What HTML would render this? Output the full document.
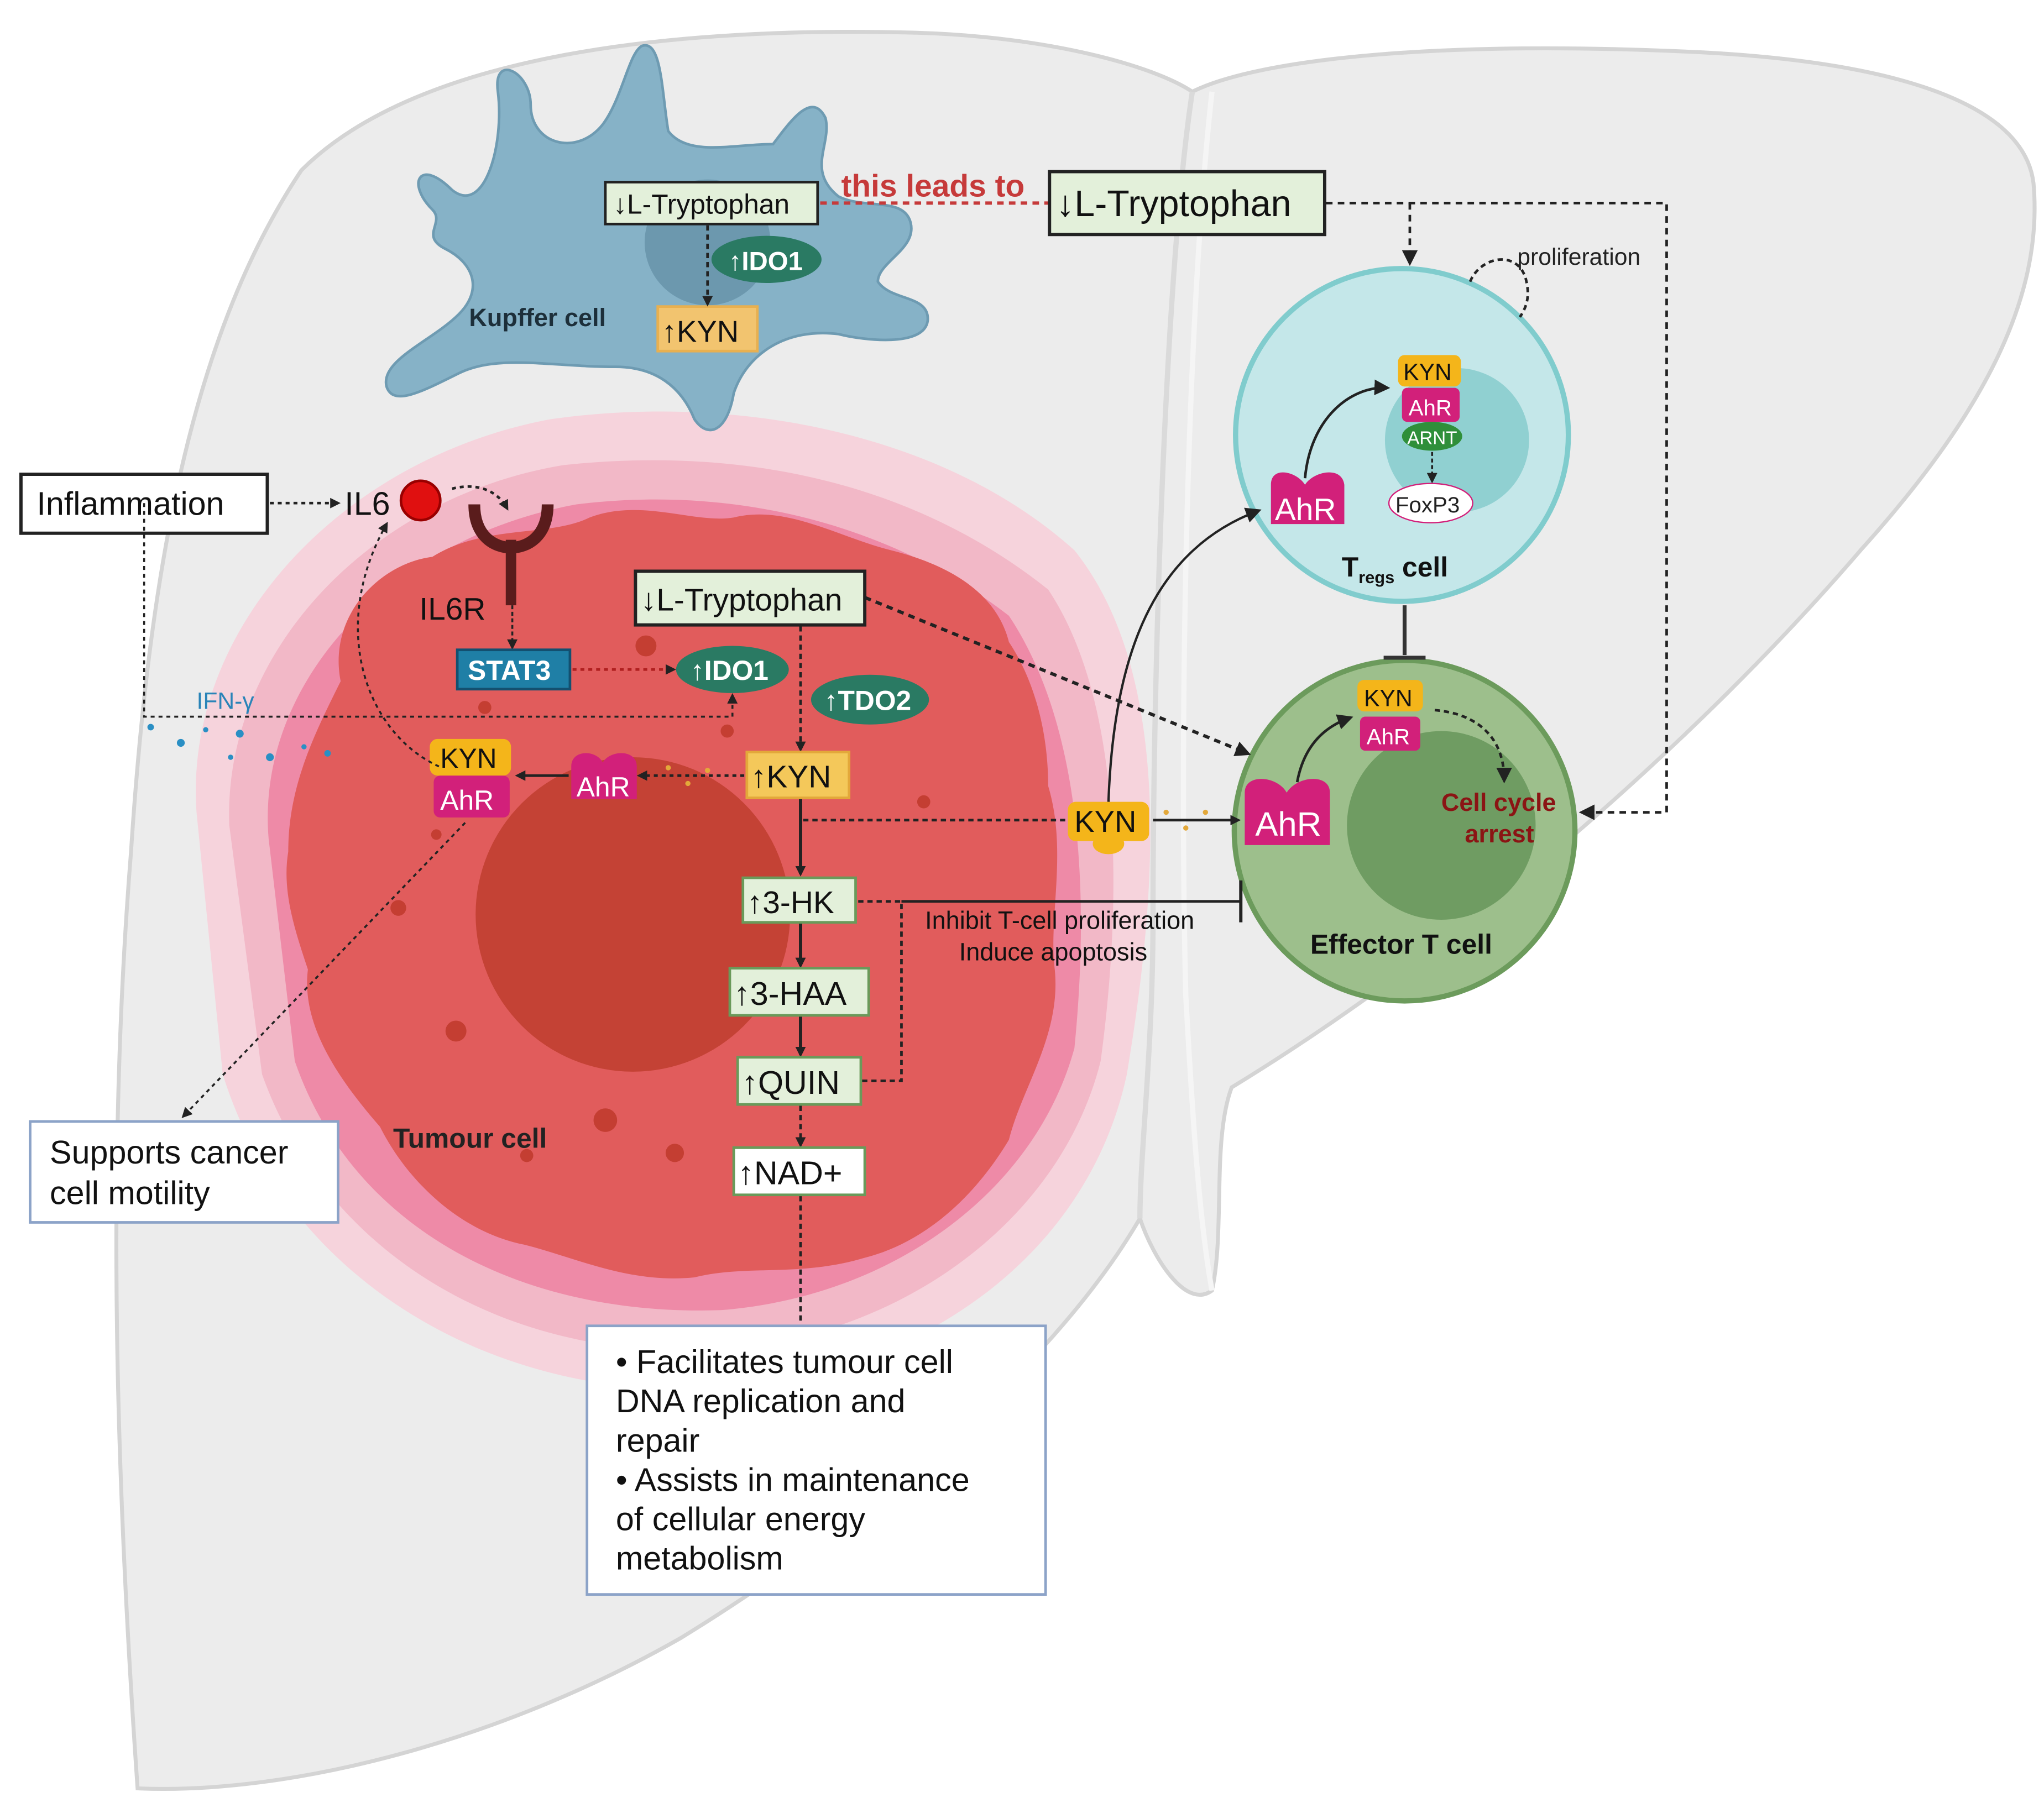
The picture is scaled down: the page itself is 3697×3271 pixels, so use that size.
<!DOCTYPE html>
<html><head><meta charset="utf-8"><style>
html,body{margin:0;padding:0;background:#fff;}
svg{display:block;}
text{font-family:"Liberation Sans",sans-serif;}
</style></head><body>
<svg width="3697" height="3271" viewBox="0 0 1560 1380" preserveAspectRatio="none" xmlns="http://www.w3.org/2000/svg">
<defs>
<marker id="ah" markerWidth="8" markerHeight="8" refX="6" refY="4" orient="auto" markerUnits="userSpaceOnUse"><path d="M0,0 L8,4 L0,8 z" fill="#222"/></marker>
<marker id="ahs" markerWidth="12" markerHeight="12" refX="9" refY="6" orient="auto" markerUnits="userSpaceOnUse"><path d="M0,0 L12,6 L0,12 z" fill="#222"/></marker>
</defs>
<rect width="1560" height="1380" fill="#fff"/>
<!-- liver -->
<path d="M105,1365 C90,1150 80,900 100,650 C115,420 150,250 230,130 C320,40 520,20 700,25 C800,28 880,50 910,70 C960,45 1100,30 1300,40 C1450,48 1545,80 1552,140 C1560,230 1510,320 1420,420 C1300,560 1120,720 940,830 C925,870 935,940 925,985 C905,1000 880,960 870,930 C800,1050 650,1170 520,1250 C380,1330 220,1370 105,1365 Z" fill="#ececec" stroke="#d4d4d4" stroke-width="3"/>
<path d="M910,70 C890,200 880,500 880,700 C880,800 870,880 870,930" fill="none" stroke="#dadada" stroke-width="4"/>
<path d="M925,70 C905,250 900,560 905,760 C910,850 915,930 925,985" fill="none" stroke="#f5f5f5" stroke-width="4"/>
<!-- tumour halo -->
<path d="M150,620 C140,480 260,350 420,320 C560,300 720,330 820,420 C900,520 880,700 860,820 C830,960 700,1050 550,1060 C380,1070 220,980 170,820 Z" fill="#f6d3dc"/>
<path d="M175,630 C170,500 280,380 430,355 C570,340 700,370 800,450 C860,540 855,700 840,810 C810,930 690,1020 550,1030 C390,1040 250,960 200,820 Z" fill="#f2b8c7"/>
<path d="M205,640 C195,520 300,410 440,385 C560,370 680,400 770,470 C830,560 830,700 820,800 C790,910 680,990 550,1000 C400,1005 270,940 225,810 Z" fill="#ee8aa7"/>
<path d="M220,650 C220,600 240,560 260,520 C250,470 290,430 330,425 C370,400 420,410 450,395 C490,380 530,400 560,395 C600,385 640,410 680,420 C720,430 760,450 770,490 C790,520 800,560 800,600 C815,650 800,700 805,740 C810,790 780,830 770,870 C740,920 700,950 660,960 C610,975 570,965 530,975 C480,980 440,960 400,950 C350,940 310,900 290,860 C255,820 230,780 235,740 C225,710 215,680 220,650 Z" fill="#e15c5c"/>
<circle cx="483" cy="698" r="120" fill="#c44235"/>
<g fill="#c43e32"><circle cx="493" cy="493" r="8"/><circle cx="370" cy="540" r="5"/><circle cx="304" cy="693" r="6"/><circle cx="348" cy="787" r="8"/><circle cx="462" cy="855" r="9"/><circle cx="515" cy="880" r="7"/><circle cx="402" cy="882" r="5"/><circle cx="555" cy="558" r="5"/><circle cx="705" cy="612" r="5"/><circle cx="333" cy="637" r="4"/><circle cx="570" cy="520" r="4"/></g>
<text x="300" y="876" font-size="21" font-weight="bold" fill="#222">Tumour cell</text>
<!-- Kupffer -->
<path d="M330,160 C310,140 320,120 345,145 C370,165 385,110 380,70 C376,40 405,55 405,80 C405,110 440,120 460,95 C475,75 480,40 490,35 C505,30 505,70 510,100 C525,120 560,110 590,110 C605,90 620,70 630,90 C635,110 615,130 640,150 C660,160 690,150 695,170 C700,190 670,200 670,215 C680,230 710,225 708,245 C705,265 660,260 640,255 C600,250 570,270 560,300 C555,330 540,335 530,320 C520,295 500,280 470,280 C420,280 380,270 350,285 C320,300 300,310 295,295 C290,275 330,260 350,240 C370,220 360,200 340,190 C320,180 340,170 330,160 Z" fill="#86b2c7" stroke="#6e9bb2" stroke-width="2"/>
<circle cx="540" cy="185" r="48" fill="#6c98ae"/>
<text x="358" y="249" font-size="19" font-weight="bold" fill="#1d2f3a">Kupffer cell</text>
<!-- Tregs -->
<circle cx="1070" cy="332" r="127" fill="#c4e7e9" stroke="#80cccd" stroke-width="4"/>
<circle cx="1112" cy="336" r="55" fill="#90d0d1"/>
<text x="1024" y="440" font-size="21" font-weight="bold" fill="#111">T<tspan font-size="13" dy="5">regs</tspan><tspan dy="-5"> cell</tspan></text>
<!-- Effector -->
<circle cx="1072" cy="634" r="130" fill="#9dbf8c" stroke="#6c9b5c" stroke-width="4"/>
<circle cx="1100" cy="630" r="72" fill="#6f9c62"/>
<text x="1000" y="728" font-size="21" font-weight="bold" fill="#111">Effector T cell</text>
<line x1="1072" y1="462" x2="1072" y2="500" stroke="#333" stroke-width="3"/>
<line x1="1056" y1="502" x2="1088" y2="502" stroke="#333" stroke-width="3"/>
<!-- boxes -->
<rect x="462" y="139" width="162" height="32" fill="#e3f0da" stroke="#222" stroke-width="2"/>
<text x="468" y="163" font-size="21" fill="#111">↓L-Tryptophan</text>
<ellipse cx="585" cy="198" rx="42" ry="18" fill="#2a7a63"/>
<text x="556" y="206" font-size="20" font-weight="bold" fill="#fff">↑IDO1</text>
<rect x="502" y="234" width="76" height="34" fill="#f2c46f" stroke="#e8b050" stroke-width="2"/>
<text x="505" y="261" font-size="23" fill="#111">↑KYN</text>
<line x1="540" y1="172" x2="540" y2="232" stroke="#222" stroke-width="2" stroke-dasharray="4,3" marker-end="url(#ah)"/>
<line x1="626" y1="155" x2="800" y2="155" stroke="#c63a3a" stroke-width="2.5" stroke-dasharray="5,4"/>
<text x="642" y="150" font-size="24" font-weight="bold" fill="#c63a3a">this leads to</text>
<rect x="801" y="131" width="210" height="48" fill="#e3f0da" stroke="#222" stroke-width="2.5"/>
<text x="806" y="165" font-size="28" fill="#111">↓L-Tryptophan</text>
<path d="M1012,155 L1272,155 L1272,620 L1208,620" fill="none" stroke="#222" stroke-width="2" stroke-dasharray="5,4" marker-end="url(#ahs)"/>
<path d="M1076,155 L1076,200" fill="none" stroke="#222" stroke-width="2" stroke-dasharray="5,4" marker-end="url(#ahs)"/>
<path d="M1122,215 C1130,195 1160,190 1165,215 C1168,228 1164,236 1160,242" fill="none" stroke="#222" stroke-width="2" stroke-dasharray="4,3"/>
<text x="1158" y="202" font-size="18" fill="#222">proliferation</text>
<!-- Tregs contents -->
<path d="M996,365 C1000,320 1030,295 1058,296" fill="none" stroke="#222" stroke-width="2" marker-end="url(#ahs)"/>
<path d="M970,400 L970,370 C970,355 990,360 996,370 C1002,360 1024,355 1026,370 L1026,400 Z" fill="#d2207a"/>
<text x="973" y="397" font-size="24" fill="#fff">AhR</text>
<rect x="1067" y="271" width="48" height="24" rx="5" fill="#f4b51a"/>
<text x="1071" y="290" font-size="18" fill="#111">KYN</text>
<rect x="1070" y="296" width="44" height="26" rx="4" fill="#d2207a"/>
<text x="1075" y="317" font-size="17" fill="#fff">AhR</text>
<ellipse cx="1093" cy="333" rx="23" ry="11" fill="#2f8f3a"/>
<text x="1074" y="339" font-size="14" fill="#fff">ARNT</text>
<line x1="1093" y1="345" x2="1093" y2="367" stroke="#222" stroke-width="1.5" stroke-dasharray="3,2" marker-end="url(#ah)"/>
<ellipse cx="1092" cy="384" rx="32" ry="15" fill="#fff" stroke="#d2207a" stroke-width="1"/>
<text x="1065" y="391" font-size="17" fill="#222">FoxP3</text>
<!-- Effector contents -->
<path d="M950,645 L950,605 C950,590 975,592 982,605 C990,592 1015,590 1015,605 L1015,645 Z" fill="#d2207a"/>
<text x="958" y="638" font-size="26" fill="#fff">AhR</text>
<path d="M990,597 C995,570 1010,555 1030,548" fill="none" stroke="#222" stroke-width="2" marker-end="url(#ahs)"/>
<rect x="1036" y="519" width="50" height="24" rx="5" fill="#f4b51a"/>
<text x="1041" y="539" font-size="18" fill="#111">KYN</text>
<rect x="1038" y="547" width="46" height="26" rx="4" fill="#d2207a"/>
<text x="1043" y="568" font-size="17" fill="#fff">AhR</text>
<path d="M1095,542 C1130,545 1148,565 1148,595" fill="none" stroke="#222" stroke-width="2" stroke-dasharray="4,3" marker-end="url(#ahs)"/>
<text x="1100" y="619" font-size="19" font-weight="bold" fill="#8b1414">Cell cycle</text>
<text x="1118" y="643" font-size="19" font-weight="bold" fill="#8b1414">arrest</text>
<!-- Inflammation -->
<rect x="16" y="362" width="188" height="45" fill="#fff" stroke="#222" stroke-width="2.5"/>
<text x="28" y="393" font-size="25" fill="#111">Inflammation</text>
<line x1="206" y1="384" x2="258" y2="384" stroke="#222" stroke-width="2" stroke-dasharray="3,3" marker-end="url(#ah)"/>
<text x="263" y="393" font-size="25" fill="#111">IL6</text>
<circle cx="321" cy="382" r="15" fill="#e01010" stroke="#900" stroke-width="2"/>
<path d="M345,373 C365,368 380,375 387,388" fill="none" stroke="#222" stroke-width="2" stroke-dasharray="3,3" marker-end="url(#ah)"/>
<path d="M362,385 C362,410 378,418 390,418 C402,418 418,410 418,385" fill="none" stroke="#5a1c1c" stroke-width="9"/>
<rect x="386" y="412" width="8" height="50" fill="#5a1c1c"/>
<text x="320" y="473" font-size="24" fill="#111">IL6R</text>
<line x1="391" y1="462" x2="391" y2="494" stroke="#222" stroke-width="1.5" stroke-dasharray="3,2" marker-end="url(#ah)"/>
<rect x="349" y="496" width="86" height="30" fill="#1f7fa6" stroke="#135070" stroke-width="2"/>
<text x="357" y="519" font-size="21" font-weight="bold" fill="#fff">STAT3</text>
<line x1="437" y1="511" x2="514" y2="511" stroke="#b02020" stroke-width="2" stroke-dasharray="3,3" marker-end="url(#ah)"/>
<ellipse cx="559" cy="511" rx="43" ry="18" fill="#2a7a63"/>
<text x="527" y="519" font-size="21" font-weight="bold" fill="#fff">↑IDO1</text>
<ellipse cx="664" cy="534" rx="45" ry="19" fill="#2a7a63"/>
<text x="629" y="542" font-size="21" font-weight="bold" fill="#fff">↑TDO2</text>
<path d="M110,384 L110,547 L559,547 L559,531" fill="none" stroke="#222" stroke-width="1.5" stroke-dasharray="3,3" marker-end="url(#ah)"/>
<text x="150" y="541" font-size="18" fill="#2a84b8">IFN-γ</text>
<g fill="#2a8fc4"><circle cx="115" cy="555" r="2.5"/><circle cx="138" cy="567" r="3"/><circle cx="157" cy="557" r="2"/><circle cx="183" cy="560" r="3"/><circle cx="176" cy="578" r="2"/><circle cx="206" cy="578" r="3"/><circle cx="232" cy="570" r="2"/><circle cx="250" cy="575" r="2.5"/></g>
<!-- tumour pathway -->
<rect x="485" y="436" width="175" height="41" fill="#e3f0da" stroke="#222" stroke-width="2.5"/>
<text x="489" y="466" font-size="24" fill="#111">↓L-Tryptophan</text>
<line x1="611" y1="478" x2="611" y2="572" stroke="#222" stroke-width="2" stroke-dasharray="4,3" marker-end="url(#ah)"/>
<line x1="660" y1="456" x2="952" y2="575" stroke="#222" stroke-width="2.5" stroke-dasharray="5,4" marker-end="url(#ahs)"/>
<rect x="570" y="574" width="78" height="35" fill="#f4c85a" stroke="#e3a83a" stroke-width="2"/>
<text x="573" y="601" font-size="24" fill="#111">↑KYN</text>
<line x1="568" y1="592" x2="488" y2="592" stroke="#222" stroke-width="2" stroke-dasharray="3,3" marker-end="url(#ah)"/>
<g fill="#e3a83a"><circle cx="510" cy="586" r="2"/><circle cx="525" cy="598" r="2"/><circle cx="540" cy="588" r="2"/></g>
<path d="M436,610 L436,585 C436,572 455,572 460,582 C466,572 486,572 486,585 L486,610 Z" fill="#d2207a"/>
<text x="440" y="608" font-size="21" fill="#fff">AhR</text>
<line x1="434" y1="592" x2="395" y2="592" stroke="#222" stroke-width="2" marker-end="url(#ah)"/>
<rect x="328" y="564" width="62" height="28" rx="6" fill="#f4b51a"/>
<text x="336" y="586" font-size="21" fill="#111">KYN</text>
<rect x="331" y="592" width="58" height="32" rx="5" fill="#d2207a"/>
<text x="336" y="618" font-size="21" fill="#fff">AhR</text>
<path d="M335,585 C280,560 250,480 295,400" fill="none" stroke="#222" stroke-width="1.5" stroke-dasharray="3,3" marker-end="url(#ah)"/>
<line x1="355" y1="628" x2="140" y2="852" stroke="#222" stroke-width="1.5" stroke-dasharray="3,3" marker-end="url(#ah)"/>
<rect x="23" y="856" width="235" height="77" fill="#fff" stroke="#8ca3c8" stroke-width="2"/>
<text x="38" y="888" font-size="25" fill="#111">Supports cancer</text>
<text x="38" y="919" font-size="25" fill="#111">cell motility</text>
<line x1="611" y1="610" x2="611" y2="667" stroke="#222" stroke-width="2.5" marker-end="url(#ah)"/>
<line x1="613" y1="626" x2="815" y2="626" stroke="#222" stroke-width="2" stroke-dasharray="4,3"/>
<rect x="815" y="612" width="62" height="30" rx="6" fill="#f4b51a"/>
<ellipse cx="846" cy="644" rx="12" ry="8" fill="#f4b51a"/>
<text x="820" y="635" font-size="23" fill="#111">KYN</text>
<g fill="#e3a83a"><circle cx="890" cy="620" r="2"/><circle cx="905" cy="632" r="2"/><circle cx="920" cy="620" r="2"/></g>
<line x1="880" y1="626" x2="945" y2="626" stroke="#222" stroke-width="2" marker-end="url(#ah)"/>
<path d="M846,612 C850,500 880,420 960,390" fill="none" stroke="#222" stroke-width="1.8" marker-end="url(#ahs)"/>
<rect x="567" y="670" width="86" height="34" fill="#e3f0da" stroke="#6a9a5a" stroke-width="2"/>
<text x="570" y="697" font-size="24" fill="#111">↑3-HK</text>
<line x1="611" y1="705" x2="611" y2="737" stroke="#222" stroke-width="2.5" marker-end="url(#ah)"/>
<rect x="557" y="739" width="106" height="36" fill="#e3f0da" stroke="#6a9a5a" stroke-width="2"/>
<text x="560" y="767" font-size="25" fill="#111">↑3-HAA</text>
<line x1="611" y1="776" x2="611" y2="805" stroke="#222" stroke-width="2.5" marker-end="url(#ah)"/>
<rect x="563" y="807" width="94" height="36" fill="#e3f0da" stroke="#6a9a5a" stroke-width="2"/>
<text x="566" y="835" font-size="25" fill="#111">↑QUIN</text>
<line x1="611" y1="844" x2="611" y2="874" stroke="#222" stroke-width="2" stroke-dasharray="4,3" marker-end="url(#ah)"/>
<rect x="560" y="876" width="100" height="36" fill="#fff" stroke="#6a9a5a" stroke-width="2"/>
<text x="563" y="904" font-size="25" fill="#111">↑NAD+</text>
<line x1="611" y1="913" x2="611" y2="1010" stroke="#222" stroke-width="2" stroke-dasharray="4,3"/>
<path d="M655,688 L688,688 L688,825 L658,825" fill="none" stroke="#222" stroke-width="2" stroke-dasharray="4,3"/>
<line x1="688" y1="688" x2="947" y2="688" stroke="#222" stroke-width="2"/>
<line x1="947" y1="672" x2="947" y2="704" stroke="#222" stroke-width="2.5"/>
<text x="706" y="709" font-size="19" fill="#111">Inhibit T-cell proliferation</text>
<text x="732" y="733" font-size="19" fill="#111">Induce apoptosis</text>
<rect x="448" y="1012" width="350" height="205" fill="#fff" stroke="#8ca3c8" stroke-width="2"/>
<text font-size="25" fill="#111">
<tspan x="470" y="1048">•  Facilitates tumour cell</tspan>
<tspan x="470" y="1078">DNA replication and</tspan>
<tspan x="470" y="1108">repair</tspan>
<tspan x="470" y="1138">•  Assists in maintenance</tspan>
<tspan x="470" y="1168">of cellular energy</tspan>
<tspan x="470" y="1198">metabolism</tspan>
</text>
</svg>
</body></html>
